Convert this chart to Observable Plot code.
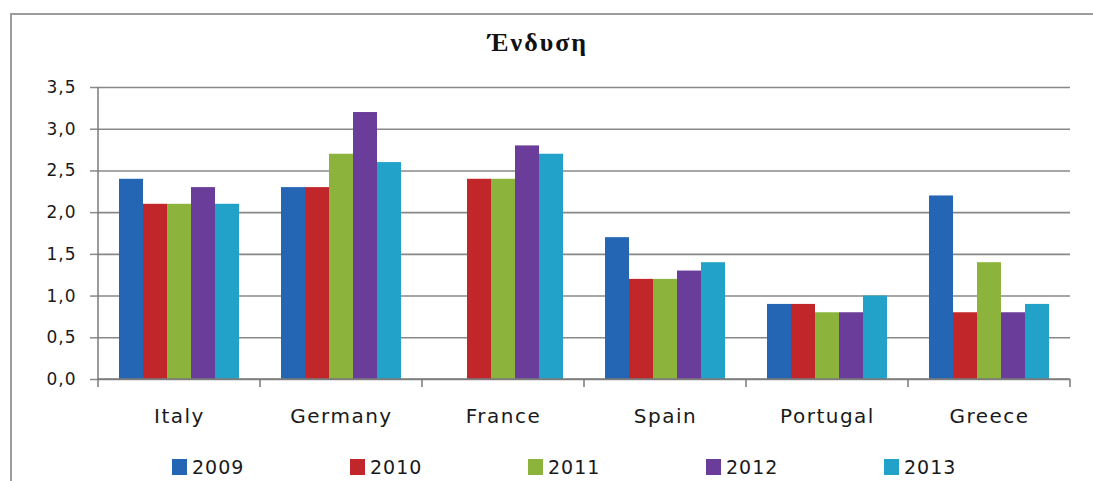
<!DOCTYPE html>
<html>
<head>
<meta charset="utf-8">
<script src="https://cdn.jsdelivr.net/npm/d3@7"></script>
<script src="https://cdn.jsdelivr.net/npm/@observablehq/plot@0.6"></script>
<style>
  body { margin: 0; background: #fff; }
  #wrap { position: relative; width: 1093px; height: 481px; overflow: hidden; font-family: "DejaVu Sans", sans-serif; color: #1a1a1a; }
  #border { position: absolute; left: 10px; top: 13px; width: 1200px; height: 600px; border-top: 2px solid #9c9c9c; border-left: 2px solid #9c9c9c; }
  #title { position: relative; height: 70px; }
  #title span { position: absolute; left: 388px; width: 300px; top: 28px; text-align: center; font-family: "Liberation Serif", serif; font-weight: bold; font-size: 26px; letter-spacing: 2px; color: #111; }
  #plot { position: relative; height: 375px; }
  #plot svg { display: block; }
  #plot g[aria-label="fx-axis tick label"] text { letter-spacing: 1.5px; }
  #plot g[aria-label="y-axis tick label"] text { letter-spacing: 1px; }
  #plot g[aria-label="y-axis tick"] path { stroke: #8a8a8a; stroke-width: 1.5; }
  #legend { position: relative; display: flex; padding-left: 172px; margin-top: 11px; }
  .item { width: 178px; display: flex; align-items: center; font-size: 19px; letter-spacing: 1px; color: #1a1a1a; }
  .sw { width: 15px; height: 16px; margin-right: 5px; }
</style>
</head>
<body>
<div id="wrap">
  <div id="border"></div>
  <div id="title"><span>Ένδυση</span></div>
  <div id="plot"></div>
  <div id="legend"></div>
</div>
<script>
const titleText = "Ένδυση";
const countries = ["Italy", "Germany", "France", "Spain", "Portugal", "Greece"];
const years = ["2009", "2010", "2011", "2012", "2013"];
const v2009 = [2.4, 2.3, null, 1.7, 0.9, 2.2];
const v2010 = [2.1, 2.3, 2.4, 1.2, 0.9, 0.8];
const v2011 = [2.1, 2.7, 2.4, 1.2, 0.8, 1.4];
const v2012 = [2.3, 3.2, 2.8, 1.3, 0.8, 0.8];
const v2013 = [2.1, 2.6, 2.7, 1.4, 1.0, 0.9];
const yTicks = [0, 0.5, 1, 1.5, 2, 2.5, 3, 3.5];
const colors = ["#2466b4", "#c0262a", "#8cb43c", "#6a3d9a", "#22a2c8"];

const series = [v2009, v2010, v2011, v2012, v2013];
const rows = [];
years.forEach((yr, j) => countries.forEach((c, i) => {
  if (series[j][i] != null) rows.push({country: c, year: yr, value: series[j][i]});
}));

const fmt = d => d.toFixed(1).replace(".", ",");

const chart = Plot.plot({
  width: 1093,
  height: 375,
  marginLeft: 96,
  marginRight: 21,
  marginTop: 17,
  marginBottom: 66,
  style: {fontFamily: "DejaVu Sans, sans-serif", fontSize: "17px", color: "#1a1a1a", background: "transparent"},
  fx: {domain: countries, padding: 0, label: null},
  x: {domain: years, paddingInner: 0, paddingOuter: 0.76, axis: null},
  y: {domain: [0, 3.5], label: null},
  color: {domain: years, range: colors},
  marks: [
    Plot.gridY(yTicks, {stroke: "#888", strokeOpacity: 1, strokeWidth: 1.6}),
    Plot.barY(rows, {fx: "country", x: "year", y: "value", fill: "year"}),
    Plot.axisY(yTicks, {tickSize: 8, tickPadding: 14, tickFormat: fmt, label: null, fontSize: 17}),
    Plot.axisFx({anchor: "bottom", tickSize: 0, tickPadding: 29, fontSize: 20, label: null})
  ]
});
document.getElementById("plot").append(chart);

// axis lines and category-boundary ticks drawn from the plot's own scales
const fx = chart.scale("fx");
const y = chart.scale("y");
const svg = d3.select(chart);
const y0 = y.apply(0), yTop = y.apply(3.5);
const x0 = fx.apply(countries[0]);
const xEnd = fx.apply(countries[countries.length - 1]) + fx.bandwidth;
const g = svg.append("g").attr("stroke", "#7a7a7a").attr("stroke-width", 1.5);
g.append("line").attr("x1", x0).attr("x2", xEnd).attr("y1", y0).attr("y2", y0);
g.append("line").attr("x1", x0).attr("x2", x0).attr("y1", yTop).attr("y2", y0 + 8);
countries.forEach((c, i) => {
  const xb = fx.apply(c);
  if (i > 0) g.append("line").attr("x1", xb).attr("x2", xb).attr("y1", y0).attr("y2", y0 + 8);
});
g.append("line").attr("x1", xEnd).attr("x2", xEnd).attr("y1", y0).attr("y2", y0 + 8);

// legend
const legend = d3.select("#legend");
years.forEach((yr, i) => {
  const it = legend.append("div").attr("class", "item");
  it.append("div").attr("class", "sw").style("background", colors[i]);
  it.append("span").text(yr);
});
</script>
</body>
</html>
